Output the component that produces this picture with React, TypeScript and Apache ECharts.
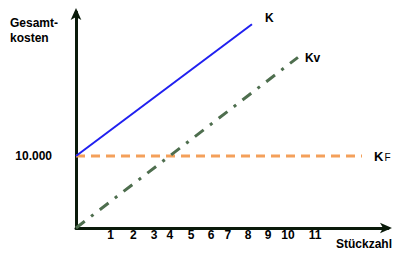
import React, { useEffect, useRef } from "react";
import * as echarts from "echarts";

// x axis in chart units (0..15), y axis in Euro (0..30000)
const tickPositions = [1.66, 2.76, 3.76, 4.51, 5.53, 6.49, 7.3, 8.27, 9.23, 10.19, 11.49];
const tickLabels = ["1", "2", "3", "4", "5", "6", "7", "8", "9", "10", "11"];
const fixedCost = 10000;
const kLine = [[0, 10000], [8.46, 28300]];
const kvLine = [[0, 0], [10.67, 23700]];
const kfLine = [[0, 10000], [13.75, 10000]];

export default function App() {
  const ref = useRef<HTMLDivElement>(null);
  useEffect(() => {
    const chart = echarts.init(ref.current!, null, { renderer: "svg" });
    const font = "Liberation Sans, Arial, sans-serif";
    chart.setOption({
      animation: false,
      grid: { left: 76, right: 22, top: 12, bottom: 46 },
      xAxis: {
        type: "value",
        min: 0,
        max: 15,
        splitLine: { show: false },
        axisLine: {
          show: true,
          lineStyle: { color: "#0a1a0a", width: 3 },
          symbol: ["none", "arrow"],
          symbolSize: [8, 12],
          symbolOffset: [0, 4],
        },
        axisTick: { show: false },
        axisLabel: {
          show: true,
          customValues: tickPositions,
          formatter: (v: number) => {
            const i = tickPositions.findIndex((p) => Math.abs(p - v) < 1e-6);
            return i >= 0 ? tickLabels[i] : "";
          },
          color: "#000",
          fontFamily: font,
          fontWeight: "bold",
          fontSize: 12,
          margin: 1,
        },
      },
      yAxis: {
        type: "value",
        min: 0,
        max: 30000,
        splitLine: { show: false },
        axisLine: {
          show: true,
          lineStyle: { color: "#0a1a0a", width: 3 },
          symbol: ["none", "arrow"],
          symbolSize: [8, 12],
          symbolOffset: [0, 4],
        },
        axisTick: { show: false },
        axisLabel: {
          show: true,
          customValues: [fixedCost],
          formatter: () => "10.000",
          color: "#000",
          fontFamily: font,
          fontWeight: "bold",
          fontSize: 12,
          margin: 24,
        },
      },
      series: [
        {
          type: "line",
          data: kfLine,
          showSymbol: false,
          lineStyle: { color: "#f4a05a", width: 3, type: [9, 6] },
          endLabel: {
            show: true,
            formatter: "{a|K}{b|F}",
            offset: [4, 0],
            rich: {
              a: { fontFamily: font, fontWeight: "bold", fontSize: 13, color: "#000" },
              b: { fontFamily: font, fontSize: 10, color: "#000", padding: [3, 0, 0, 1] },
            },
          },
          z: 2,
        },
        {
          type: "line",
          data: kvLine,
          showSymbol: false,
          lineStyle: { color: "#4e6e4e", width: 3, type: [11, 8, 3, 8] },
          endLabel: {
            show: true,
            formatter: "Kv",
            offset: [-1, 1],
            fontFamily: font,
            fontWeight: "bold",
            fontSize: 12,
            color: "#000",
          },
          z: 3,
        },
        {
          type: "line",
          data: kLine,
          showSymbol: false,
          lineStyle: { color: "#2020f0", width: 2 },
          endLabel: {
            show: true,
            formatter: "K",
            offset: [5, -6],
            fontFamily: font,
            fontWeight: "bold",
            fontSize: 12,
            color: "#000",
          },
          z: 4,
        },
      ],
      graphic: [
        {
          type: "text",
          left: 10,
          top: 15,
          style: {
            text: "Gesamt-\nkosten",
            fontFamily: font,
            fontWeight: "bold",
            fontSize: 12,
            lineHeight: 15,
            fill: "#000",
          },
        },
        {
          type: "text",
          left: 336,
          top: 238,
          style: {
            text: "Stückzahl",
            fontFamily: font,
            fontWeight: "bold",
            fontSize: 12,
            fill: "#000",
          },
        },
      ],
    });
    return () => chart.dispose();
  }, []);
  return <div ref={ref} style={{ width: 410, height: 274, position: "absolute", left: 0, top: 0 }} />;
}
